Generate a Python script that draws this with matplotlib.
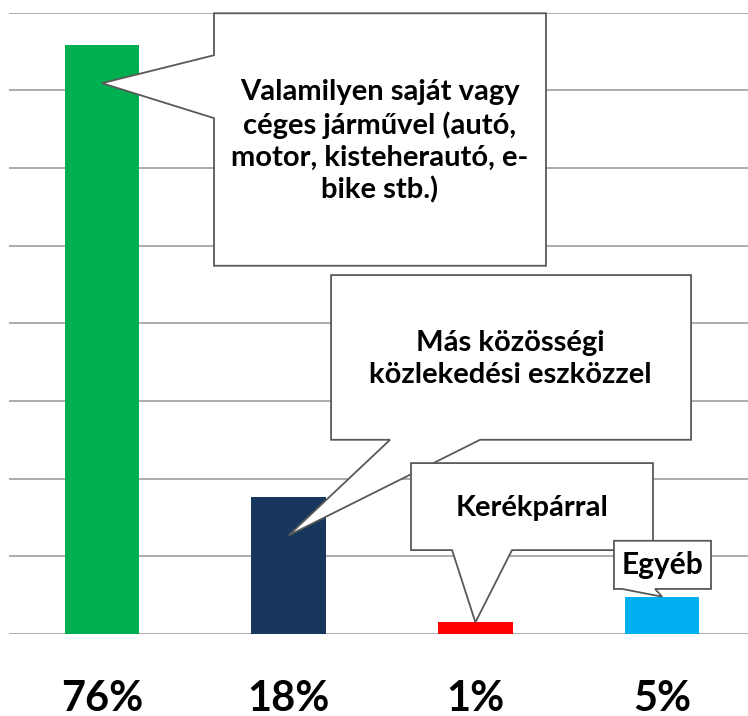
import matplotlib
matplotlib.use("Agg")
import matplotlib.pyplot as plt
from matplotlib.patches import Polygon

# data
categories = ["Valamilyen saját vagy\ncéges járművel (autó,\nmotor, kisteherautó, e-\nbike stb.)",
              "Más közösségi\nközlekedési eszközzel",
              "Kerékpárral",
              "Egyéb"]
values = [75.8, 17.6, 1.5, 4.8]
pct_labels = ["76%", "18%", "1%", "5%"]
colors = ["#00B050", "#17375E", "#FF0000", "#00B0F0"]

plt.rcParams["font.family"] = ["Lato", "DejaVu Sans"]

fig = plt.figure(figsize=(7.48, 7.16), dpi=100)
ax = fig.add_axes([9 / 748, 82 / 716, 739 / 748, 621.5 / 716])

x = list(range(len(values)))
ax.bar(x, values, width=0.4, color=colors, zorder=2)

ax.set_xlim(-0.498, 3.46)
ax.set_ylim(0, 80)
ax.set_yticks(range(0, 81, 10))
ax.grid(axis="y", color="#A6A6A6", linewidth=1.3, zorder=0)
ax.set_axisbelow(True)
for s in ax.spines.values():
    s.set_visible(False)
ax.tick_params(left=False, bottom=False, labelleft=False, labelbottom=False)

# percent labels under the bars
for xi, lab in zip(x, pct_labels):
    ax.text(xi, -9.9, lab, ha="center", va="baseline", fontsize=30,
            fontweight="bold", clip_on=False)


def callout(box, side, base, tip, z):
    x0, y0, x1, y1 = box
    if side == "left":
        verts = [(x0, y1), (x1, y1), (x1, y0), (x0, y0),
                 (x0, base[0]), tip, (x0, base[1])]
    else:
        verts = [(x0, y1), (x1, y1), (x1, y0),
                 (base[1], y0), tip, (base[0], y0), (x0, y0)]
    p = Polygon(verts, closed=True, facecolor="white", edgecolor="#595959",
                linewidth=1.3, joinstyle="miter", zorder=z, clip_on=False)
    ax.add_patch(p)


# callout boxes: (box, tail side, tail base, tail tip)
callout((0.600, 47.4, 2.378, 79.9), "left", (66.4, 74.5), (x[0], 70.9), 3)
callout((1.227, 25.0, 3.155, 46.2), "bottom", (1.543, 2.025), (x[1], 12.7), 4)
callout((1.655, 10.8, 2.951, 22.0), "bottom", (1.875, 2.196), (x[2], values[2]), 5)
callout((2.742, 5.8, 3.262, 12.0), "bottom", (2.785, 2.962), (x[3], values[3]), 6)

text_pos = [(1.489, 63.4), (2.185, 35.4), (2.303, 16.2), (3.0, 8.9)]
text_size = [21, 21, 21, 21.5]
for i, (cat, (tx, ty)) in enumerate(zip(categories, text_pos)):
    ax.text(tx, ty, cat, ha="center", va="center", fontsize=text_size[i],
            fontweight="bold", linespacing=1.27, zorder=10 + i)

fig.savefig("out.png", dpi=100)
